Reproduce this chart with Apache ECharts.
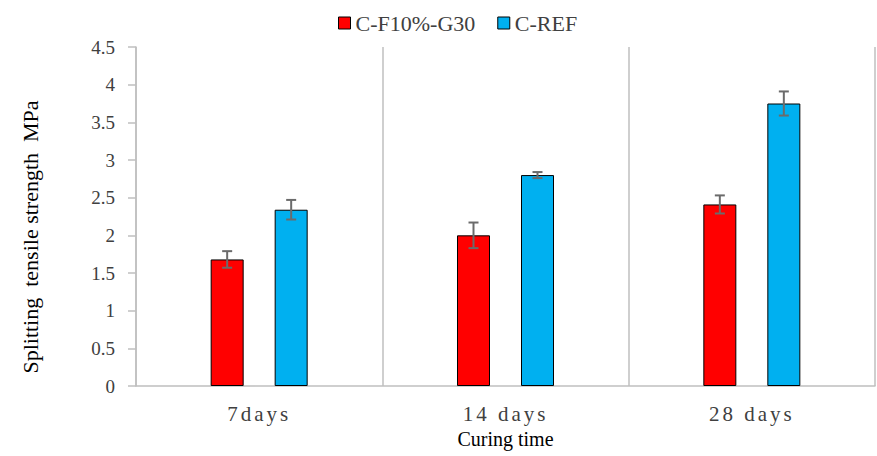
<!DOCTYPE html>
<html>
<head>
<meta charset="utf-8">
<script src="https://cdn.jsdelivr.net/npm/echarts@6/dist/echarts.min.js"></script>
<style>
  html, body { margin: 0; padding: 0; background: #fff; }
  #chart { width: 877px; height: 456px; }
  #chart svg text { font-family: 'Liberation Serif', 'Times New Roman', serif !important; }
</style>
</head>
<body>
<div id="chart"></div>
<script>
// Curing ages on the category axis
const categories = ['7days', '14 days', '28 days'];

// Mean splitting tensile strength (MPa) per mix
const flyAshMix = [1.68, 2.00, 2.41];   // C-F10%-G30
const refMix = [2.34, 2.80, 3.75];      // C-REF

// Standard deviation for each bar (MPa)
const flyAshErr = [0.11, 0.17, 0.12];
const refErr = [0.13, 0.04, 0.16];

const seriesNames = ['C-F10%-G30', 'C-REF'];
const seriesColors = ['#ff0000', '#00b0f0'];
const yTitle = 'Splitting  tensile strength  MPa';
const xTitle = 'Curing time';

const BAR_W = 33;
const BAR_GAP = 31;

const FONT = 'Liberation Serif';

const chart = echarts.init(document.getElementById('chart'), null, { renderer: 'svg' });

// Whisker drawn as a vertical stem with caps, shifted to sit over its bar
function errorBarRenderer(side) {
  return function (params, api) {
    const idx = api.value(0);
    const lo = api.coord([idx, api.value(1)]);
    const hi = api.coord([idx, api.value(2)]);
    const shift = side * (BAR_W + BAR_GAP) / 2;
    const x = lo[0] + shift;
    const cap = 5;
    const style = { stroke: '#6b6b6b', lineWidth: 2 };
    return {
      type: 'group',
      children: [
        { type: 'line', shape: { x1: x, y1: hi[1], x2: x, y2: lo[1] }, style },
        { type: 'line', shape: { x1: x - cap, y1: hi[1], x2: x + cap, y2: hi[1] }, style },
        { type: 'line', shape: { x1: x - cap, y1: lo[1], x2: x + cap, y2: lo[1] }, style }
      ]
    };
  };
}

function errorData(values, errs) {
  return values.map((v, i) => [i, v - errs[i], v + errs[i]]);
}

chart.on('finished', function () {
  // widen the tracking of the curing-age labels
  const texts = document.querySelectorAll('#chart svg text');
  texts.forEach(function (t) {
    if (categories.indexOf(t.textContent) >= 0) {
      t.setAttribute('letter-spacing', '3px');
    }
  });
});

chart.setOption({
  animation: false,
  textStyle: { fontFamily: FONT },
  legend: {
    top: 7,
    left: 333,
    itemWidth: 12,
    itemHeight: 12,
    itemGap: 22,
    icon: 'rect',
    textStyle: { fontFamily: FONT, fontSize: 22, color: '#404040' },
    data: seriesNames.map((n, i) => ({
      name: n,
      itemStyle: { color: seriesColors[i], borderColor: '#000', borderWidth: 1 }
    }))
  },
  grid: { left: 136, right: 2, top: 47, bottom: 70 },
  graphic: [{
    type: 'text',
    x: 30,
    y: 237,
    rotation: Math.PI / 2,
    style: {
      text: yTitle,
      fontFamily: FONT,
      fontSize: 22,
      fill: '#000',
      textAlign: 'center',
      textVerticalAlign: 'middle'
    }
  }],
  xAxis: {
    type: 'category',
    data: categories,
    name: xTitle,
    nameLocation: 'middle',
    nameGap: 42,
    nameTextStyle: { fontFamily: FONT, fontSize: 20, color: '#000' },
    axisLine: { show: true, lineStyle: { color: '#bfbfbf', width: 1.5 } },
    axisTick: { show: false },
    axisLabel: { fontFamily: FONT, fontSize: 21, color: '#404040', margin: 17 },
    splitLine: { show: true, lineStyle: { color: '#bfbfbf', width: 1.5 } }
  },
  yAxis: {
    type: 'value',
    min: 0,
    max: 4.5,
    interval: 0.5,
    axisLine: { show: true, lineStyle: { color: '#bfbfbf', width: 1.5 } },
    axisTick: { show: true, length: 8, lineStyle: { color: '#bfbfbf', width: 1.5 } },
    axisLabel: { fontFamily: FONT, fontSize: 19, color: '#404040', margin: 21 },
    splitLine: { show: false }
  },
  series: [
    {
      name: seriesNames[0],
      type: 'bar',
      data: flyAshMix,
      barWidth: BAR_W,
      barGap: (BAR_GAP / BAR_W * 100) + '%',
      itemStyle: { color: seriesColors[0], borderColor: '#000', borderWidth: 1 }
    },
    {
      name: seriesNames[1],
      type: 'bar',
      data: refMix,
      barWidth: BAR_W,
      itemStyle: { color: seriesColors[1], borderColor: '#000', borderWidth: 1 }
    },
    {
      type: 'custom',
      renderItem: errorBarRenderer(-1),
      data: errorData(flyAshMix, flyAshErr),
      encode: { x: 0, y: [1, 2] },
      z: 10,
      silent: true
    },
    {
      type: 'custom',
      renderItem: errorBarRenderer(1),
      data: errorData(refMix, refErr),
      encode: { x: 0, y: [1, 2] },
      z: 10,
      silent: true
    }
  ]
});
</script>
</body>
</html>
